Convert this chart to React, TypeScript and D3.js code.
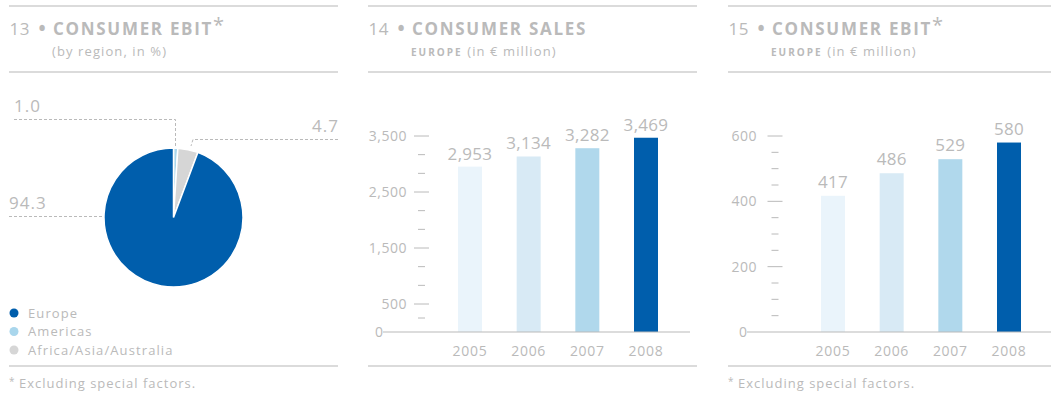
import React from "react";
import * as d3 from "d3";

const pieRegions = ["Americas", "Africa/Asia/Australia", "Europe"];
const pieValues = [1.0, 4.7, 94.3];
const pieLabels = ["1.0", "4.7", "94.3"];
const legendRegions = ["Europe", "Americas", "Africa/Asia/Australia"];

const years = ["2005", "2006", "2007", "2008"];
const salesValues = [2953, 3134, 3282, 3469];
const ebitValues = [417, 486, 529, 580];

const salesMajorTicks = [0, 500, 1500, 2500, 3500];
const salesMinorTicks = [250, 833, 1167, 1833, 2167, 2833, 3167];
const ebitMajorTicks = [0, 200, 400, 600];
const ebitMinorTicks = [50, 100, 150, 250, 300, 350, 450, 500, 550];

const GRAY = "#bababa";
const LINE = "#cfcfcf";
const FONT = "'Open Sans', sans-serif";
const barColors = ["#eaf4fb", "#d8eaf5", "#b0d8ec", "#005eac"];
const regionColors: Record<string, string> = {
  Europe: "#005eac",
  Americas: "#a9d6ec",
  "Africa/Asia/Australia": "#d6d6d6",
};

const fmt = d3.format(",");

function Header({ x0, x1, num, title, star, sub, region }: any) {
  return (
    <g>
      <line x1={x0} x2={x1} y1={6} y2={6} stroke={LINE} strokeWidth={1.5} />
      <text y={35} fontFamily={FONT} fontSize={17} fill={GRAY}>
        <tspan x={x0 + 0.5} letterSpacing={0.5}>{num}</tspan>
        <tspan x={x0 + 29.5} fontWeight="bold" fontSize={19}>•</tspan>
        <tspan x={x0 + 44} fontWeight="bold" letterSpacing={1.7}>{title}</tspan>
        {star && <tspan fontSize={20} dy={-3}>*</tspan>}
      </text>
      <text x={x0 + 43} y={56} fontFamily={FONT} fontSize={13} fill={GRAY} letterSpacing={1.1}>
        {region && (
          <tspan fontWeight="bold" fontSize={10} letterSpacing={2}>{region} </tspan>
        )}
        <tspan>{sub}</tspan>
      </text>
      <line x1={x0} x2={x1} y1={72} y2={72} stroke={LINE} strokeWidth={1.5} />
      <line x1={x0} x2={x1} y1={366} y2={366} stroke={LINE} strokeWidth={1.5} />
    </g>
  );
}

function Footnote({ x }: { x: number }) {
  return (
    <text y={388} fontFamily={FONT} fontSize={13} fill={GRAY} letterSpacing={1}>
      <tspan x={x} fontSize={10} dy={-3}>*</tspan>
      <tspan x={x + 10} dy={3}>Excluding special factors.</tspan>
    </text>
  );
}

function PiePanel() {
  const cx = 173.5, cy = 217.5, r = 69.5;
  const pie = d3.pie<number>().sort(null).value((d) => d);
  const arcs = pie(pieValues);
  const arc = d3.arc<d3.PieArcDatum<number>>().innerRadius(0).outerRadius(r);
  return (
    <g>
      <Header x0={9} x1={338} num="13" title="CONSUMER EBIT" star sub="(by region, in %)" />
      <g transform={`translate(${cx},${cy})`}>
        {arcs.map((a, i) => (
          <path key={i} d={arc(a) || ""} fill={regionColors[pieRegions[i]]} stroke="#fff" strokeWidth={1.5} />
        ))}
      </g>
      <g stroke={GRAY} strokeWidth={1} strokeDasharray="3,2" fill="none">
        <polyline points={`14,119.5 175.5,119.5 175.5,147`} />
        <polyline points={`338,139.5 193,139.5 191,146`} />
        <polyline points={`9,216.5 104,216.5`} />
      </g>
      <text x={14} y={112} fontFamily={FONT} fontSize={17} fill={GRAY} letterSpacing={1}>{pieLabels[0]}</text>
      <text x={339} y={132} textAnchor="end" fontFamily={FONT} fontSize={17} fill={GRAY} letterSpacing={1}>{pieLabels[1]}</text>
      <text x={9} y={209} fontFamily={FONT} fontSize={17} fill={GRAY} letterSpacing={1}>{pieLabels[2]}</text>
      {legendRegions.map((name, i) => (
        <g key={name}>
          <circle cx={14} cy={313 + i * 18.5} r={4.5} fill={regionColors[name]} />
          <text x={28} y={317.5 + i * 18.5} fontFamily={FONT} fontSize={13} fill={GRAY} letterSpacing={1.1}>{name}</text>
        </g>
      ))}
      <Footnote x={9} />
    </g>
  );
}

function BarPanel({ x0, x1, num, title, star, values, domainMax, major, minor, axisX0, tickX, labelX, firstCenter, lastCenter, labelGap }: any) {
  const y = d3.scaleLinear().domain([0, domainMax]).range([332, 136]);
  const x = d3.scalePoint<string>().domain(years).range([firstCenter, lastCenter]);
  const bw = 24;
  return (
    <g>
      <Header x0={x0} x1={x1} num={num} title={title} star={star} sub="(in € million)" region="EUROPE" />
      {major.filter((t: number) => t > 0).map((t: number) => (
        <line key={"M" + t} x1={tickX} x2={tickX + 15} y1={y(t)} y2={y(t)} stroke={GRAY} strokeWidth={1} />
      ))}
      {minor.map((t: number) => (
        <line key={"m" + t} x1={tickX + 4} x2={tickX + 11} y1={y(t)} y2={y(t)} stroke={GRAY} strokeWidth={1} />
      ))}
      {major.map((t: number) => (
        <text key={"L" + t} x={t === 0 ? axisX0 - 8 : labelX} y={y(t) + 5} textAnchor={t === 0 ? "start" : "end"} fontFamily={FONT} fontSize={14} fill={GRAY} letterSpacing={0.5}>
          {fmt(t)}
        </text>
      ))}
      {years.map((yr, i) => (
        <g key={yr}>
          <rect x={(x(yr) as number) - bw / 2} y={y(values[i])} width={bw} height={332 - y(values[i])} fill={barColors[i]} />
          <text x={x(yr)} y={y(values[i]) - labelGap} textAnchor="middle" fontFamily={FONT} fontSize={17} fill={GRAY} letterSpacing={0.3}>
            {fmt(values[i])}
          </text>
          <text x={x(yr)} y={356} textAnchor="middle" fontFamily={FONT} fontSize={14} fill={GRAY} letterSpacing={0.7}>
            {yr}
          </text>
        </g>
      ))}
      <line x1={axisX0} x2={x1 - 7} y1={332} y2={332} stroke={GRAY} strokeWidth={1.2} />
    </g>
  );
}

export default function App() {
  return (
    <svg width={1051} height={396} style={{ position: "absolute", left: 0, top: 0, background: "#fff" }}>
      <PiePanel />
      <BarPanel x0={368} x1={697} num="14" title="CONSUMER SALES" star={false} values={salesValues} domainMax={3500}
        major={salesMajorTicks} minor={salesMinorTicks} axisX0={383} tickX={414} labelX={407}
        firstCenter={470} lastCenter={646} labelGap={7} />
      <BarPanel x0={728} x1={1058} num="15" title="CONSUMER EBIT" star values={ebitValues} domainMax={600}
        major={ebitMajorTicks} minor={ebitMinorTicks} axisX0={747} tickX={767.5} labelX={757}
        firstCenter={833} lastCenter={1009} labelGap={8} />
      <Footnote x={728} />
    </svg>
  );
}
